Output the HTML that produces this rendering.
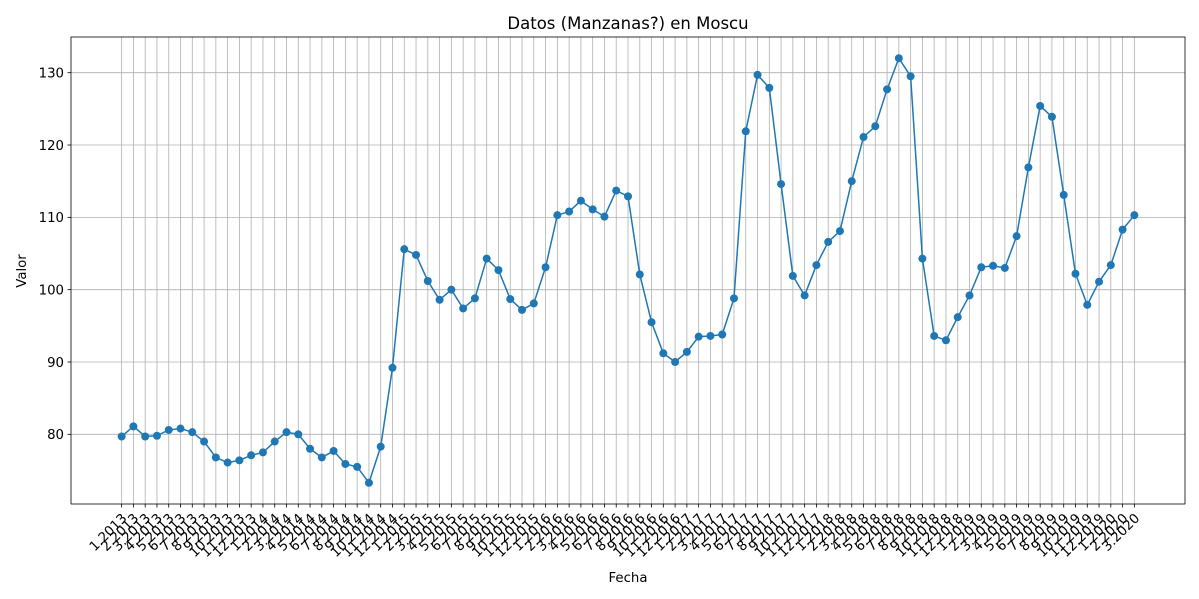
<!DOCTYPE html>
<html><head><meta charset="utf-8"><style>
html,body{margin:0;padding:0;background:#fff}
svg{display:block;font-family:"DejaVu Sans","Liberation Sans",sans-serif}
</style></head><body>
<svg id="chart" width="1199" height="599" viewBox="0 0 1199 599" xmlns="http://www.w3.org/2000/svg">
<rect width="1199" height="599" fill="#fff"/>
<g id="grid"></g>
<g id="xticks"></g>
<g id="yticks"></g>
<g id="series"></g>
<rect x="71" y="37" width="1114" height="467" fill="none" stroke="#000" stroke-width="0.8"/>
<text x="628" y="29" font-size="16.5" text-anchor="middle" fill="#000">Datos (Manzanas?) en Moscu</text>
<text x="628" y="582" font-size="13.3" text-anchor="middle" fill="#000">Fecha</text>
<text x="0" y="0" font-size="13.3" text-anchor="middle" fill="#000" transform="translate(26,271) rotate(-90)">Valor</text>
</svg>
<script>
const years = [2013,2014,2015,2016,2017,2018,2019,2020];
const values = [
79.7,81.1,79.7,79.8,80.6,80.8,80.3,79.0,76.8,76.1,76.4,77.1,
77.5,79.0,80.3,80.0,78.0,76.8,77.7,75.9,75.5,73.3,78.3,89.2,
105.6,104.8,101.2,98.6,100.0,97.4,98.8,104.3,102.7,98.7,97.2,98.1,
103.1,110.3,110.8,112.3,111.1,110.1,113.7,112.9,102.1,95.5,91.2,90.0,
91.4,93.5,93.6,93.8,98.8,121.9,129.7,127.9,114.6,101.9,99.2,103.4,
106.6,108.1,115.0,121.1,122.6,127.7,132.0,129.5,104.3,93.6,93.0,96.2,
99.2,103.1,103.3,103.0,107.4,116.9,125.4,123.9,113.1,102.2,97.9,101.1,
103.4,108.3,110.3
];
const yTicks = [80,90,100,110,120,130];
const categories = [];
for (let i = 0; i < values.length; i++) {
  categories.push(((i % 12) + 1) + '.' + years[Math.floor(i / 12)]);
}
const L=71,R=1185,T=37,B=504;
const n = values.length;
const xMin = -(n-1)*0.05, xMax = (n-1)*1.05;
let vmin=Math.min(...values), vmax=Math.max(...values);
const pad=(vmax-vmin)*0.05;
const yMin=vmin-pad, yMax=vmax+pad;
const X = i => L + (i - xMin)/(xMax - xMin)*(R-L);
const Y = v => B - (v - yMin)/(yMax - yMin)*(B-T);
const NS='http://www.w3.org/2000/svg';
function mk(tag, attrs, parent){const e=document.createElementNS(NS,tag);for(const k in attrs)e.setAttribute(k,attrs[k]);parent.appendChild(e);return e;}
const grid=document.getElementById('grid'), xt=document.getElementById('xticks'), yt=document.getElementById('yticks'), se=document.getElementById('series');
categories.forEach((c,i)=>{
  const x=X(i);
  const g=mk('line',{x1:x,x2:x,y1:T,y2:B,stroke:'#b0b0b0','stroke-width':0.8},grid);
  
  
  const tk=mk('line',{x1:x,x2:x,y1:B,y2:B+3.5,stroke:'#000','stroke-width':0.8},xt);
  
  
  const t=mk('text',{'font-size':13.3,'text-anchor':'end',fill:'#000',transform:`translate(${x+6},${B+15}) rotate(-45)`},xt);
  t.textContent=c;
  
  
});
yTicks.forEach(v=>{
  const y=Y(v);
  const g=mk('line',{x1:L,x2:R,y1:y,y2:y,stroke:'#b0b0b0','stroke-width':0.8},grid);
  
  
  const tk=mk('line',{x1:L-3.5,x2:L,y1:y,y2:y,stroke:'#000','stroke-width':0.8},yt);
  
  
  const t=mk('text',{x:L-7,y:y+4.8,'font-size':13.3,'text-anchor':'end',fill:'#000'},yt);
  t.textContent=v;
  
  
});
const pts=values.map((v,i)=>X(i).toFixed(2)+','+Y(v).toFixed(2)).join(' ');
const line=mk('polyline',{points:pts,fill:'none',stroke:'#1f77b4','stroke-width':1.5,'stroke-linejoin':'round'},se);


values.forEach((v,i)=>{
  const c=mk('circle',{cx:X(i),cy:Y(v),r:4,fill:'#1f77b4'},se);
  
  
});
</script>
</body></html>
